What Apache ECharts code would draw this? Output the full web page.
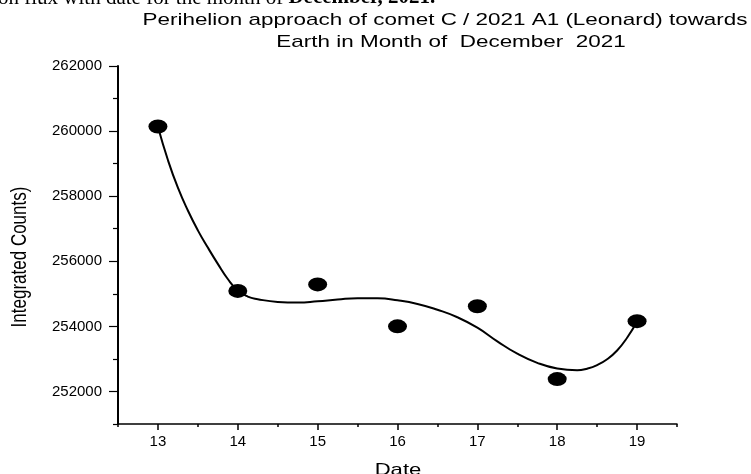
<!DOCTYPE html>
<html>
<head>
<meta charset="utf-8">
<script src="https://cdn.jsdelivr.net/npm/echarts@6/dist/echarts.min.js"></script>
<style>
  html, body { margin: 0; padding: 0; background: #fff; }
  #main { width: 751px; height: 474px; }
</style>
</head>
<body>
<div id="main"></div>
<script>
// measured points (date in December 2021, integrated counts)
var dates = [13, 14, 15, 16, 17, 18, 19];
var counts = [260140, 255090, 255290, 254000, 254620, 252380, 254160];

// fitted curve
var fitX = [13, 13.125, 13.25, 13.375, 13.5, 13.625, 13.75, 13.875, 14, 14.125, 14.25, 14.5, 14.75,
  15, 15.25, 15.5, 15.75, 16, 16.25, 16.5, 16.75, 17, 17.25, 17.5, 17.75, 18,
  18.25, 18.375, 18.5, 18.625, 18.75, 18.875, 19];
var fitY = [260130, 259110, 258260, 257560, 256950, 256420, 255920, 255455, 255100, 254915, 254835, 254750, 254730,
  254770, 254825, 254865, 254860, 254800, 254690, 254510, 254280, 253960, 253540, 253160, 252880, 252705,
  252650, 252700, 252810, 252990, 253260, 253650, 254150];

// tick positions / labels
var xTicks = [13, 14, 15, 16, 17, 18, 19];
var xMinorTicks = [12.5, 13.5, 14.5, 15.5, 16.5, 17.5, 18.5, 19.5];
var yTicks = [252000, 254000, 256000, 258000, 260000, 262000];
var yMinorTicks = [251000, 253000, 255000, 257000, 259000, 261000];

var chart = echarts.init(document.getElementById('main'), null, { renderer: 'canvas' });

var font = '"Liberation Sans", Arial, sans-serif';
var serif = '"Liberation Serif", "Times New Roman", serif';

var option = {
  animation: false,
  backgroundColor: '#fff',
  grid: {
    left: 118,
    right: 74,
    top: 66,
    bottom: 50,
    containLabel: false,
    outerBoundsMode: 'none'
  },
  xAxis: [{
    type: 'value',
    min: 12.5,
    max: 19.5,
    position: 'bottom',
    splitLine: { show: false },
    axisLine: { show: true, lineStyle: { color: '#000', width: 1.5 } },
    axisTick: { show: true, customValues: xTicks, length: 6, lineStyle: { color: '#000', width: 1.5 } },
    axisLabel: {
      customValues: xTicks,
      color: '#000', fontSize: 15, fontFamily: font, margin: 10,
      formatter: function (v) { return String(v); }
    }
  }, {
    type: 'value',
    min: 12.5,
    max: 19.5,
    position: 'bottom',
    splitLine: { show: false },
    axisLine: { show: false },
    axisTick: { show: true, customValues: xMinorTicks, length: 3, lineStyle: { color: '#000', width: 1.5 } },
    axisLabel: { show: false }
  }],
  yAxis: [{
    type: 'value',
    min: 251000,
    max: 262000,
    position: 'left',
    splitLine: { show: false },
    axisLine: { show: true, lineStyle: { color: '#000', width: 2 } },
    axisTick: { show: true, customValues: yTicks, length: 9, lineStyle: { color: '#000', width: 1.2 } },
    axisLabel: {
      customValues: yTicks,
      color: '#000', fontSize: 15, fontFamily: font, margin: 16,
      formatter: function (v) { return String(v); }
    }
  }, {
    type: 'value',
    min: 251000,
    max: 262000,
    position: 'left',
    splitLine: { show: false },
    axisLine: { show: false },
    axisTick: { show: true, customValues: yMinorTicks, length: 5, lineStyle: { color: '#000', width: 1.2 } },
    axisLabel: { show: false }
  }],
  series: [{
    name: 'fit',
    type: 'line',
    data: fitX.map(function (x, i) { return [x, fitY[i]]; }),
    smooth: 0.5,
    showSymbol: false,
    symbol: 'none',
    lineStyle: { color: '#000', width: 2 },
    z: 2
  }, {
    name: 'counts',
    type: 'scatter',
    data: dates.map(function (d, i) { return [d, counts[i]]; }),
    symbol: 'circle',
    symbolSize: [19, 14],
    itemStyle: { color: '#000', opacity: 1 },
    z: 3
  }],
  graphic: [{
    // caption of the page, cut off at the top
    type: 'text',
    x: -2,
    y: -2,
    style: {
      text: '{n|on flux with date for the month of }{b|December, 2021.}',
      verticalAlign: 'middle',
      rich: {
        n: { fontFamily: serif, fontSize: 21, fontWeight: 'normal', fill: '#000' },
        b: { fontFamily: serif, fontSize: 21, fontWeight: 'bold', fill: '#000' }
      }
    }
  }, {
    type: 'text',
    x: 445,
    y: 20,
    scaleX: 1.32,
    style: {
      text: 'Perihelion approach of comet C / 2021 A1 (Leonard) towards',
      font: '17px ' + font,
      fill: '#000',
      align: 'center',
      verticalAlign: 'middle'
    }
  }, {
    type: 'text',
    x: 451,
    y: 42,
    scaleX: 1.32,
    style: {
      text: 'Earth in Month of  December  2021',
      font: '17px ' + font,
      fill: '#000',
      align: 'center',
      verticalAlign: 'middle'
    }
  }, {
    type: 'text',
    x: 20,
    y: 257,
    rotation: Math.PI / 2,
    scaleY: 1.3,
    style: {
      text: 'Integrated Counts)',
      font: '17px ' + font,
      fill: '#000',
      align: 'center',
      verticalAlign: 'middle'
    }
  }, {
    type: 'text',
    x: 398,
    y: 470,
    scaleX: 1.3,
    style: {
      text: 'Date',
      font: '17px ' + font,
      fill: '#000',
      align: 'center',
      verticalAlign: 'middle'
    }
  }]
};

chart.setOption(option);
</script>
</body>
</html>
